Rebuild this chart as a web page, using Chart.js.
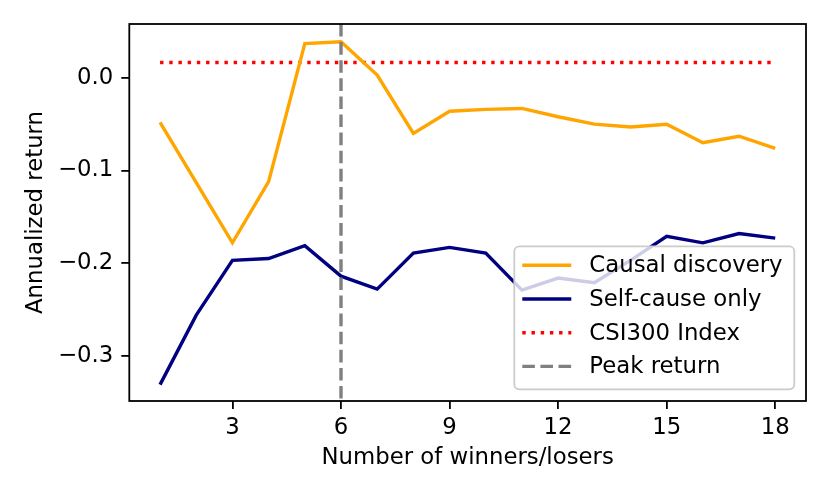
<!DOCTYPE html>
<html>
<head>
<meta charset="utf-8">
<script src="https://cdn.jsdelivr.net/npm/chart.js@4.4.1/dist/chart.umd.min.js"></script>
<style>
  html, body { margin: 0; padding: 0; background: #fff; }
  #wrap { width: 830px; height: 498px; }
</style>
</head>
<body>
<div id="wrap"><canvas id="grafico" width="830" height="498"></canvas></div>
<script>
// values
const numWinners = [1, 2, 3, 4, 5, 6, 7, 8, 9, 10, 11, 12, 13, 14, 15, 16, 17, 18];
const causalDiscovery = [-0.048, -0.113, -0.178, -0.112, 0.037, 0.039, 0.003, -0.060, -0.036, -0.034,
                         -0.033, -0.042, -0.050, -0.053, -0.050, -0.070, -0.063, -0.076];
const selfCauseOnly = [-0.331, -0.256, -0.197, -0.195, -0.181, -0.214, -0.228, -0.189, -0.183, -0.189,
                       -0.229, -0.216, -0.221, -0.197, -0.171, -0.178, -0.168, -0.173];
const csi300 = 0.0166;
const peakX = 6;
const seriesNames = ['Causal discovery', 'Self-cause only', 'CSI300 Index', 'Peak return'];
const xTicks = [3, 6, 9, 12, 15, 18];
const yTicks = [-0.3, -0.2, -0.1, 0.0];

const FONT = '"DejaVu Sans", "Liberation Sans", sans-serif';
const FS = 22.8;

const toPoints = (ys) => numWinners.map((x, i) => ({ x: x, y: ys[i] }));
const csiPoints = [numWinners[0], numWinners[numWinners.length - 1]].map(x => ({ x: x, y: csi300 }));

// peak line, frame and legend drawn in the same order as matplotlib does
const extras = {
  id: 'extras',
  afterDatasetsDraw(chart) {
    const { ctx, chartArea: a, scales } = chart;
    const px = scales.x.getPixelForValue(peakX);
    ctx.save();
    ctx.beginPath();
    ctx.rect(a.left, a.top, a.right - a.left, a.bottom - a.top);
    ctx.clip();
    ctx.strokeStyle = '#808080';
    ctx.lineWidth = 3.4;
    ctx.setLineDash([12.6, 5.5]);
    ctx.beginPath();
    ctx.moveTo(px, a.top);
    ctx.lineTo(px, a.bottom);
    ctx.stroke();
    ctx.restore();

    // frame
    ctx.save();
    ctx.strokeStyle = '#000';
    ctx.lineWidth = 1.8;
    ctx.strokeRect(a.left, a.top, a.right - a.left, a.bottom - a.top);
    ctx.restore();

    // legend
    const w = 280, h = 143;
    const lx = a.right - 11.7 - w, ly = a.bottom - 11.7 - h;
    ctx.save();
    ctx.beginPath();
    ctx.roundRect(lx, ly, w, h, 5);
    ctx.fillStyle = 'rgba(255,255,255,0.8)';
    ctx.fill();
    ctx.strokeStyle = '#cccccc';
    ctx.lineWidth = 1.8;
    ctx.stroke();

    const items = [
      { color: '#FFA500', dash: [] },
      { color: '#000080', dash: [] },
      { color: '#FF0000', dash: [3.4, 5.8] },
      { color: '#808080', dash: [12.6, 5.5] }
    ];
    ctx.font = FS + 'px ' + FONT;
    ctx.textBaseline = 'middle';
    ctx.textAlign = 'left';
    items.forEach((it, i) => {
      const cy = ly + 19 + i * 33.7;
      ctx.strokeStyle = it.color;
      ctx.lineWidth = 3.4;
      ctx.setLineDash(it.dash);
      ctx.beginPath();
      ctx.moveTo(lx + 8, cy);
      ctx.lineTo(lx + 57, cy);
      ctx.stroke();
      ctx.fillStyle = '#000';
      ctx.fillText(seriesNames[i], lx + 75, cy + 1);
    });
    ctx.restore();
  }
};

const config = {
  type: 'line',
  data: {
    datasets: [
      {
        label: seriesNames[0],
        data: toPoints(causalDiscovery),
        borderColor: '#FFA500',
        borderWidth: 3.4,
        pointRadius: 0,
        tension: 0
      },
      {
        label: seriesNames[1],
        data: toPoints(selfCauseOnly),
        borderColor: '#000080',
        borderWidth: 3.4,
        pointRadius: 0,
        tension: 0
      },
      {
        label: seriesNames[2],
        data: csiPoints,
        borderColor: '#FF0000',
        borderWidth: 3.4,
        borderDash: [3.4, 5.8],
        pointRadius: 0,
        tension: 0
      }
    ]
  },
  options: {
    responsive: false,
    animation: false,
    devicePixelRatio: 1,
    layout: { padding: { top: 24, right: 24, left: 0, bottom: 0 } },
    plugins: { legend: { display: false }, tooltip: { enabled: false } },
    scales: {
      x: {
        type: 'linear',
        min: 0.15,
        max: 18.85,
        afterBuildTicks: (s) => { s.ticks = xTicks.map(v => ({ value: v })); },
        afterFit: (s) => { s.height = 97; },
        grid: { drawOnChartArea: false, drawTicks: true, tickLength: 8, color: '#000', lineWidth: 1.8 },
        border: { display: false },
        ticks: {
          color: '#000',
          padding: 5,
          maxRotation: 0,
          font: { family: FONT, size: FS },
          callback: (v) => String(v)
        },
        title: {
          display: true,
          text: 'Number of winners/losers',
          color: '#000',
          font: { family: FONT, size: FS },
          padding: { top: 0, bottom: 26 }
        }
      },
      y: {
        min: -0.3487,
        max: 0.0581,
        afterBuildTicks: (s) => { s.ticks = yTicks.map(v => ({ value: v })); },
        afterFit: (s) => { s.width = 129.3; },
        grid: { drawOnChartArea: false, drawTicks: true, tickLength: 8, color: '#000', lineWidth: 1.8 },
        border: { display: false },
        ticks: {
          color: '#000',
          padding: 8,
          font: { family: FONT, size: FS },
          callback: (v) => (Math.abs(v) < 1e-9 ? '0.0' : v.toFixed(1).replace('-', '\u2212'))
        },
        title: {
          display: true,
          text: 'Annualized return',
          color: '#000',
          font: { family: FONT, size: FS },
          padding: { top: 22, bottom: 0 }
        }
      }
    }
  },
  plugins: [extras]
};

new Chart(document.getElementById('grafico').getContext('2d'), config);
</script>
</body>
</html>
